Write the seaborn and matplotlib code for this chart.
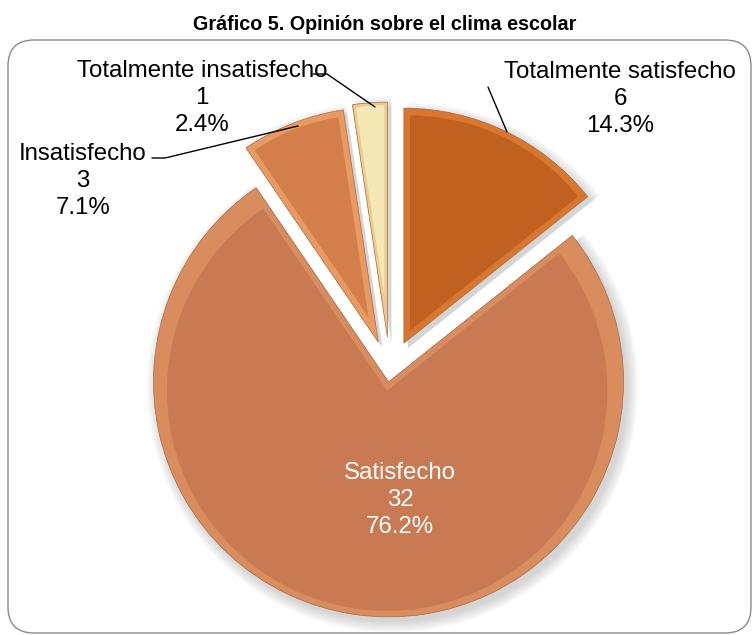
import matplotlib
matplotlib.use("Agg")
from matplotlib import pyplot as plt
from matplotlib.patches import Wedge, FancyBboxPatch
import numpy as np
import seaborn as sns

# data
categorias = ["Totalmente satisfecho", "Satisfecho", "Insatisfecho", "Totalmente insatisfecho"]
valores = [6, 32, 3, 1]
colores = ["#C0611F", "#C97A52", "#D47F4B", "#F4E8B4"]
bordes = ["#D9772F", "#D98C5E", "#E89A62", "#EFC98E"]

W, H = 754, 635


def px(x, y):
    # pixel coords (top-left origin) -> data coords
    return x, H - y


sns.set_theme(style="white")
plt.rcParams['font.family'] = ['Liberation Sans', 'DejaVu Sans']

fig = plt.figure(figsize=(W / 100, H / 100), dpi=100)
ax = fig.add_axes([0, 0, 1, 1])

total = sum(valores)
etiquetas = ["%s\n%d\n%.1f%%" % (c, v, v * 100.0 / total) for c, v in zip(categorias, valores)]

wedges, _ = ax.pie(valores, colors=bordes, startangle=90, counterclock=False,
                   center=px(390, 372), radius=235, explode=[32, 10, 32, 35],
                   wedgeprops=dict(edgecolor="#a8683c", linewidth=0.5, zorder=2))

# soft shadow and bevel for each slice
for w, col in zip(wedges, colores):
    cx, cy = w.center
    for k in range(8):
        sh = Wedge((cx + 4, cy - 5), w.r + k * 1.5, w.theta1, w.theta2,
                   color="#7f7f7f", alpha=0.045, lw=0, zorder=0)
        ax.add_patch(sh)
    half = np.radians((w.theta2 - w.theta1) / 2.0)
    mid = np.radians((w.theta1 + w.theta2) / 2.0)
    t = 6 if half > 0.2 else 3
    d = t / abs(np.sin(half))
    inner = Wedge((cx + d * np.cos(mid), cy + d * np.sin(mid)), w.r - t - d,
                  w.theta1, w.theta2, color=col, lw=0, zorder=3)
    ax.add_patch(inner)

# rounded frame
ax.add_patch(FancyBboxPatch(px(8, 633), 743, 593,
                            boxstyle="round,pad=0,rounding_size=26",
                            fill=False, edgecolor="#8c8c8c", lw=1.0, zorder=5))

# labels and leader lines
lab_pos = [(620, 99), (400, 500), (83, 181), (202, 98)]
for lab, (x, y), i in zip(etiquetas, lab_pos, range(4)):
    ax.text(*px(x, y), lab, ha="center", va="center", multialignment="center",
            fontsize=17.3, linespacing=1.3,
            color="white" if i == 1 else "black", zorder=6)

lineas = [
    [(488, 87), (507, 132)],
    [(152, 158), (165, 158), (298, 126)],
    [(313, 74), (327, 74), (375, 107)],
]
for ln in lineas:
    xs, ys = zip(*[px(a, b) for a, b in ln])
    ax.plot(xs, ys, color="black", lw=1, zorder=6)

ax.text(*px(385, 25), u"Gráfico 5. Opinión sobre el clima escolar", ha="center",
        va="center", fontsize=14.2, fontweight="bold", color="black")

ax.set_xlim(0, W)
ax.set_ylim(0, H)
ax.axis("off")
plt.savefig("out.png", dpi=100)
